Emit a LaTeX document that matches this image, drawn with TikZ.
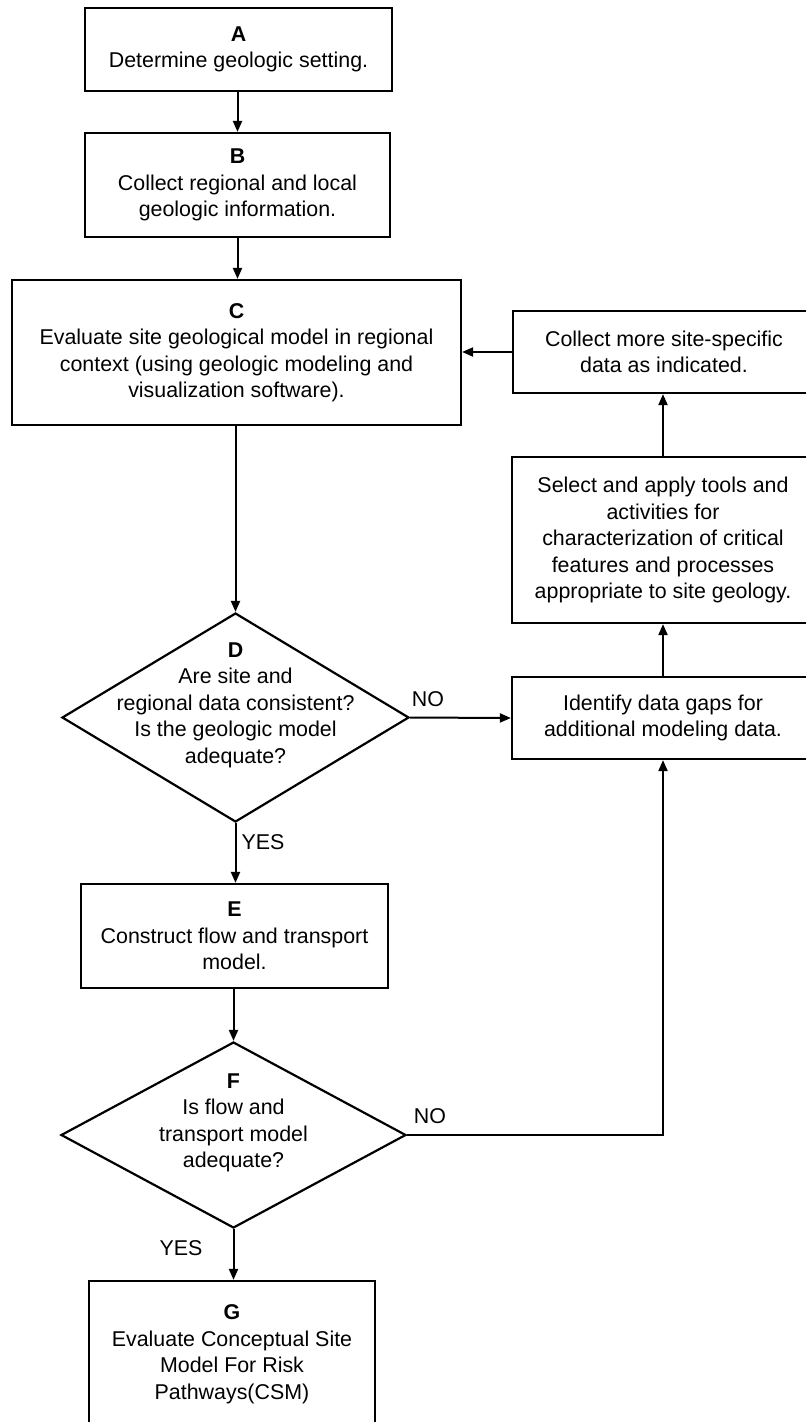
\documentclass[tikz,border=0pt]{standalone}
\usepackage{fontspec}
\setmainfont{Liberation Sans}
\usetikzlibrary{arrows.meta,shapes.geometric,calc}
\begin{document}
\begin{tikzpicture}[x=1pt,y=-1pt,
  flowbox/.style={draw, line width=2.2pt, inner sep=0pt, align=center, font=\fontsize{21.4}{26.5}\selectfont},
  decision/.style={draw, diamond, line width=2.2pt, inner sep=0pt},
  txt/.style={inner sep=0pt, align=center, font=\fontsize{21.4}{26.5}\selectfont},
  arrowline/.style={line width=2pt, -{Triangle[length=11pt,width=9pt]}},
  plainline/.style={line width=2pt}]
\fill[white] (0,0) rectangle (806,1422);
\useasboundingbox (0,0) rectangle (806,1422);

% main column
\node[flowbox, minimum width=307pt, minimum height=83pt] (A) at (238.5,49.5)
  {\textbf{A}\\Determine geologic setting.};
\node[flowbox, minimum width=305pt, minimum height=104pt] (B) at (237.5,185)
  {\textbf{B}\\Collect regional and local\\geologic information.};
\node[flowbox, minimum width=449pt, minimum height=145pt] (C) at (236.5,352.5)
  {\textbf{C}\\Evaluate site geological model in regional\\context (using geologic modeling and\\visualization software).};
\node[decision, minimum width=347pt, minimum height=209pt] (D) at (235.5,717.5) {};
\node[txt] (Dt) at (235.5,705)
  {\textbf{D}\\Are site and\\regional data consistent?\\Is the geologic model\\adequate?};
\node[flowbox, minimum width=307pt, minimum height=104pt] (E) at (234.5,936)
  {\textbf{E}\\Construct flow and transport\\model.};
\node[decision, minimum width=345pt, minimum height=186pt] (F) at (233.5,1135) {};
\node[txt] (Ft) at (233.5,1123)
  {\textbf{F}\\Is flow and\\transport model\\adequate?};
\node[flowbox, minimum width=286pt, minimum height=146pt] (G) at (232,1354)
  {\textbf{G}\\Evaluate Conceptual Site\\Model For Risk\\Pathways(CSM)};

% right column
\node[flowbox, minimum width=302pt, minimum height=82pt] (K) at (664,352)
  {Collect more site-specific\\data as indicated.};
\node[flowbox, minimum width=302pt, minimum height=166pt] (S) at (663,540)
  {Select and apply tools and\\activities for\\characterization of critical\\features and processes\\appropriate to site geology.};
\node[flowbox, minimum width=302pt, minimum height=82pt] (I) at (663,718)
  {Identify data gaps for\\additional modeling data.};

% connectors
\draw[arrowline] (A.south -| B.north) -- (B.north);
\draw[arrowline] (B.south) -- (B.south |- C.north);
\draw[arrowline] (D.north |- C.south) -- (D.north);
\draw[arrowline] (D.south) -- (D.south |- E.north);
\draw[arrowline] (F.north |- E.south) -- (F.north);
\draw[arrowline] (F.south) -- (F.south |- G.north);
\draw[arrowline] (D.east) -- (I.west);
\draw[arrowline] (F.east) -| (I.south);
\draw[arrowline] (I.north) -- (S.south);
\draw[arrowline] (S.north) -- (S.north |- K.south);
\draw[arrowline] (K.west) -- (C.east |- K.west);

% labels
\node[txt] (yes1) at (263,842) {YES};
\node[txt] (no1) at (428,699) {NO};
\node[txt] (no2) at (430,1116) {NO};
\node[txt] (yes2) at (181,1248) {YES};
\end{tikzpicture}
\end{document}
